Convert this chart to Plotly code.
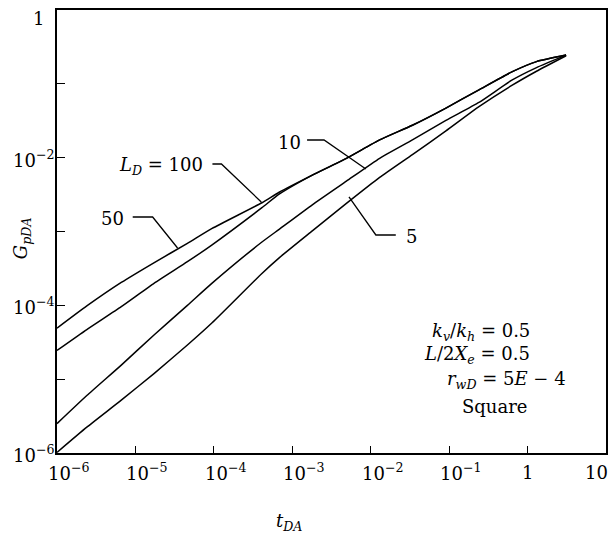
import math
import plotly.graph_objects as go

# ---- data ----
t_DA = [1e-6, 2.4e-6, 6.6e-6, 1.74e-5, 4.6e-5, 9.5e-5, 4.1e-4, 6.8e-4, 1.8e-3,
        4.9e-3, 1.3e-2, 3.4e-2, 9.1e-2, 0.24, 0.63, 1.3, 3.1]
G_LD100 = [4.9e-5, 9.8e-5, 2.04e-4, 3.8e-4, 6.9e-4, 1.1e-3, 2.45e-3, 3.4e-3, 5.8e-3,
           9.8e-3, 1.74e-2, 2.75e-2, 4.7e-2, 8.3e-2, 0.145, 0.20, 0.245]
G_LD50 = [2.45e-5, 4.7e-5, 9.6e-5, 2.0e-4, 3.9e-4, 6.6e-4, 2.1e-3, 3.2e-3, 5.8e-3,
          9.8e-3, 1.74e-2, 2.75e-2, 4.7e-2, 8.3e-2, 0.145, 0.20, 0.245]
G_LD10 = [2.5e-6, 6.0e-6, 1.55e-5, 4.0e-5, 1.0e-4, 2.0e-4, 7.2e-4, 1.07e-3, 2.3e-3,
          4.8e-3, 9.8e-3, 1.74e-2, 3.2e-2, 5.6e-2, 0.112, 0.166, 0.245]
G_LD5 = [1.02e-6, 2.24e-6, 5.2e-6, 1.2e-5, 2.9e-5, 5.8e-5, 2.7e-4, 4.4e-4, 1.02e-3,
         2.4e-3, 5.4e-3, 1.1e-2, 2.3e-2, 4.9e-2, 9.5e-2, 0.148, 0.24]

x_tick_vals = [1e-6, 1e-5, 1e-4, 1e-3, 1e-2, 1e-1, 1, 10]
x_tick_text = ["10<sup>−6</sup>", "10<sup>−5</sup>", "10<sup>−4</sup>", "10<sup>−3</sup>",
               "10<sup>−2</sup>", "10<sup>−1</sup>", "1", "10"]
y_tick_vals = [1e-6, 1e-5, 1e-4, 1e-3, 1e-2, 1e-1, 1]
y_tick_text = ["10<sup>−6</sup>", "", "10<sup>−4</sup>", "", "10<sup>−2</sup>", "", "1"]

curve_labels = ["<i>L</i><sub><i>D</i></sub> = 100", "50", "10", "5"]
param_lines = ["<i>k</i><sub><i>v</i></sub>/<i>k</i><sub><i>h</i></sub> = 0.5",
               "<i>L</i>/2<i>X</i><sub><i>e</i></sub> = 0.5",
               "<i>r</i><sub><i>wD</i></sub> = 5<i>E</i> − 4",
               "Square"]

FONT = "DejaVu Serif"
W, H = 608, 539
L, R, T, B = 57, 0, 10, 86
PW, PH = W - L - R, H - T - B


def P(px, py):
    """pixel -> paper coords"""
    return (px - L) / PW, (H - B - py) / PH


fig = go.Figure()
for ys in [G_LD100, G_LD50, G_LD10, G_LD5]:
    fig.add_trace(go.Scatter(x=t_DA, y=ys, mode="lines",
                             line=dict(color="black", width=1.5, shape="spline", smoothing=0.5),
                             showlegend=False, hoverinfo="skip"))

shapes = []
leaders = [
    [(213, 164), (222, 164), (262, 202)],
    [(133, 217), (153, 217), (178, 248)],
    [(308, 140), (325, 140), (367, 169)],
    [(350, 197), (377, 235), (397, 235)],
]
for pts in leaders:
    path = ""
    for i, (px, py) in enumerate(pts):
        x, y = P(px, py)
        path += ("M" if i == 0 else "L") + f"{x:.4f},{y:.4f} "
    shapes.append(dict(type="path", xref="paper", yref="paper", path=path.strip(),
                       line=dict(color="black", width=1.3)))

ann = []
fs = 18
# curve labels
lab_pos = [(206, 166, "right"), (113, 218, "center"), (290, 142, "center"), (405, 237, "left")]
for txt, (px, py, anc) in zip(curve_labels, lab_pos):
    x, y = P(px, py)
    ann.append(dict(text=txt, x=x, y=y, xref="paper", yref="paper", xanchor=anc,
                    yanchor="middle", showarrow=False, font=dict(family=FONT, size=fs, color="black")))

# parameter block
par_pos = [(534, 332, "right"), (534, 355, "right"), (570, 380, "right"), (496, 406, "center")]
for txt, (px, py, anc) in zip(param_lines, par_pos):
    x, y = P(px, py)
    ann.append(dict(text=txt, x=x, y=y, xref="paper", yref="paper", xanchor=anc,
                    yanchor="middle", showarrow=False, font=dict(family=FONT, size=fs, color="black")))

# x tick labels
for v, txt in zip(x_tick_vals, x_tick_text):
    if "sup" in txt:
        anc, sh = "left", -11
    elif txt == "10":
        anc, sh = "center", -10
    else:
        anc, sh = "center", 0
    ann.append(dict(text=txt, x=math.log10(v), y=0, xref="x", yref="paper", xanchor=anc,
                    yanchor="middle", xshift=sh, yshift=-19, showarrow=False,
                    font=dict(family=FONT, size=fs, color="black")))

# y tick labels
for v, txt in zip(y_tick_vals, y_tick_text):
    if not txt:
        continue
    if txt == "1":
        ann.append(dict(text=txt, x=P(38, 0)[0], y=math.log10(v), xref="paper", yref="y",
                        xanchor="center", yanchor="middle", yshift=-8, showarrow=False,
                        font=dict(family=FONT, size=fs, color="black")))
    else:
        ann.append(dict(text=txt, x=P(56, 0)[0], y=math.log10(v), xref="paper", yref="y",
                        xanchor="right", yanchor="middle", yshift=-1, showarrow=False,
                        font=dict(family=FONT, size=fs, color="black")))

# axis titles
x, y = P(290, 522)
ann.append(dict(text="<i>t</i><sub><i>DA</i></sub>", x=x, y=y, xref="paper", yref="paper",
                xanchor="center", yanchor="middle", showarrow=False,
                font=dict(family=FONT, size=fs, color="black")))
x, y = P(22, 238)
ann.append(dict(text="<i>G</i><sub><i>pDA</i></sub>", x=x, y=y, xref="paper", yref="paper",
                xanchor="center", yanchor="middle", textangle=-90, showarrow=False,
                font=dict(family=FONT, size=fs, color="black")))

fig.update_layout(
    width=W, height=H,
    margin=dict(l=L, r=R, t=T, b=B, pad=0),
    paper_bgcolor="white", plot_bgcolor="white",
    shapes=shapes, annotations=ann,
    font=dict(family=FONT, size=fs, color="black"),
)
fig.update_xaxes(type="log", range=[-6, 1], showgrid=False, zeroline=False,
                 showline=True, linecolor="black", linewidth=1.5, mirror=True,
                 ticks="inside", ticklen=7, tickwidth=1.2, tickcolor="black",
                 tickvals=x_tick_vals, showticklabels=False)
fig.update_yaxes(type="log", range=[-6, 0], showgrid=False, zeroline=False,
                 showline=True, linecolor="black", linewidth=1.5, mirror=True,
                 ticks="inside", ticklen=8, tickwidth=1.2, tickcolor="black",
                 tickvals=y_tick_vals, showticklabels=False)

fig.write_html("out.html", config={"displayModeBar": False},
               post_script="document.body.style.margin='0';document.body.style.overflow='hidden';")
